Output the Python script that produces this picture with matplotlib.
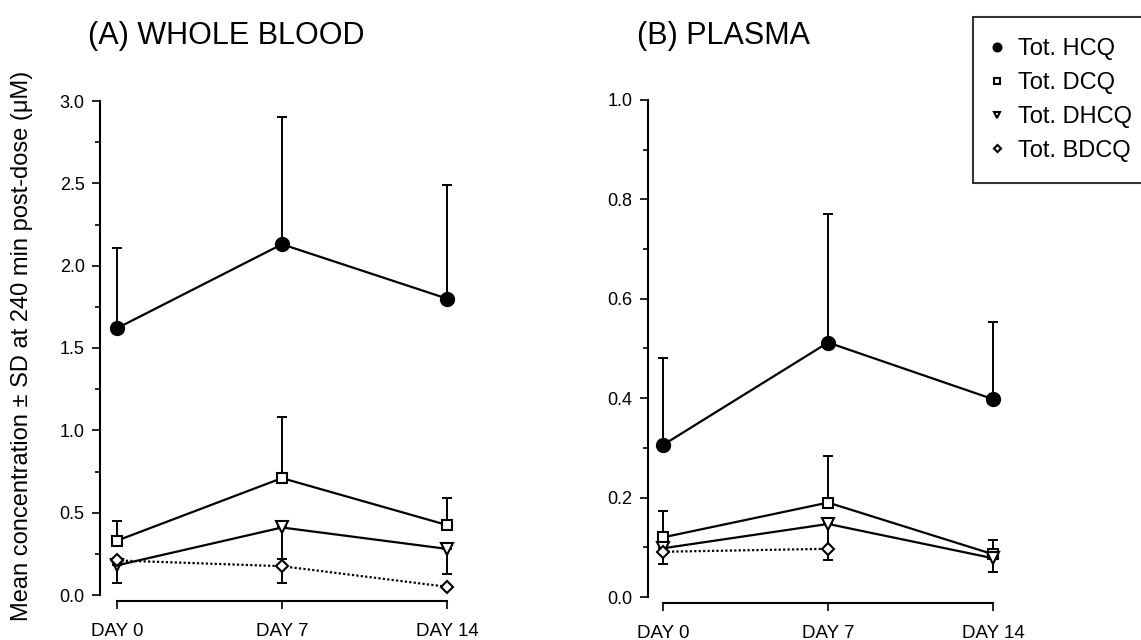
import matplotlib

matplotlib.use("Agg")
import matplotlib.pyplot as plt
import numpy as np
from matplotlib.lines import Line2D
from matplotlib.ticker import FormatStrFormatter, MultipleLocator

plt.rcParams["font.family"] = ["Liberation Sans", "DejaVu Sans"]

# x positions (days) and tick labels
days = [0, 7, 14]
day_labels = ["DAY 0", "DAY 7", "DAY 14"]
series_names = ["Tot. HCQ", "Tot. DCQ", "Tot. DHCQ", "Tot. BDCQ"]

# (A) whole blood: means, upper SD end, lower SD end (nan = no bar)
blood_hcq = [1.62, 2.13, 1.80]
blood_hcq_hi = [2.11, 2.90, 2.49]
blood_dcq = [0.33, 0.71, 0.425]
blood_dcq_hi = [0.45, 1.08, 0.59]
blood_dhcq = [0.18, 0.41, 0.28]
blood_dhcq_lo = [0.07, 0.22, 0.13]
blood_bdcq = [0.21, 0.175, 0.05]
blood_bdcq_lo = [np.nan, 0.07, np.nan]

# (B) plasma
plasma_hcq = [0.306, 0.512, 0.398]
plasma_hcq_hi = [0.481, 0.77, 0.554]
plasma_dcq = [0.12, 0.19, 0.086]
plasma_dcq_hi = [0.174, 0.284, 0.115]
plasma_dhcq = [0.098, 0.147, 0.078]
plasma_dhcq_lo = [0.066, 0.074, 0.051]
plasma_bdcq = [0.091, 0.097, np.nan]

STYLE = {
    "Tot. HCQ": dict(marker="o", ms=9.5, mfc="black", ls="-"),
    "Tot. DCQ": dict(marker="s", ms=7, mfc="white", ls="-"),
    "Tot. DHCQ": dict(marker="v", ms=8, mfc="white", ls="-"),
    "Tot. BDCQ": dict(marker="D", ms=6, mfc="white", ls=(0, (1, 1))),
}


def one_sided(ax, y, end, upper):
    y = np.asarray(y, float)
    end = np.asarray(end, float)
    ok = ~np.isnan(end) & ~np.isnan(y)
    x = np.asarray(days, float)[ok]
    d = np.abs(end[ok] - y[ok])
    err = [np.zeros_like(d), d] if upper else [d, np.zeros_like(d)]
    ax.errorbar(x, y[ok], yerr=err, fmt="none", ecolor="black",
                elinewidth=1.4, capsize=3.5, capthick=1.4, clip_on=False, zorder=2)


def draw_panel(ax, data, ymax, major, minor, xlim):
    for name, (y, hi, lo) in zip(series_names, data):
        if hi is not None:
            one_sided(ax, y, hi, True)
        if lo is not None:
            one_sided(ax, y, lo, False)
    for name, (y, hi, lo) in zip(series_names, data):
        st = STYLE[name]
        ax.plot(days, y, color="black", lw=1.6, ls=st["ls"], marker=st["marker"],
                ms=st["ms"], mfc=st["mfc"], mec="black", mew=1.5,
                clip_on=False, zorder=3)

    ax.set_xlim(*xlim)
    ax.set_ylim(0, ymax)
    ax.set_xticks(days, day_labels)
    ax.yaxis.set_major_locator(MultipleLocator(major))
    ax.yaxis.set_minor_locator(MultipleLocator(minor))
    ax.yaxis.set_major_formatter(FormatStrFormatter("%.1f"))
    ax.tick_params(axis="y", which="major", length=6, width=1.2, pad=5, labelsize=13)
    ax.tick_params(axis="y", which="minor", length=3.5, width=1.2)
    ax.tick_params(axis="x", which="major", length=6, width=1.2, pad=10,
                   direction="out", labelsize=13.5)
    for s in ("top", "right"):
        ax.spines[s].set_visible(False)
    ax.spines["left"].set_bounds(0, ymax)
    ax.spines["left"].set_linewidth(1.5)
    ax.spines["bottom"].set_bounds(0, 14)
    ax.spines["bottom"].set_linewidth(1.5)
    ax.spines["bottom"].set_position(("outward", 4))


fig = plt.figure(figsize=(11.41, 6.40), dpi=100)
W, H = 1141, 640

px_per_day = 165 / 7
axA = fig.add_axes([100 / W, 1 - 595 / H, 15.32 * px_per_day / W, 494 / H])
axB = fig.add_axes([648 / W, 1 - 597 / H, 15.24 * px_per_day / W, 497 / H])

draw_panel(axA, [(blood_hcq, blood_hcq_hi, None), (blood_dcq, blood_dcq_hi, None),
                 (blood_dhcq, None, blood_dhcq_lo), (blood_bdcq, None, blood_bdcq_lo)],
           3.0, 0.5, 0.25, (-0.72, 14.6))
draw_panel(axB, [(plasma_hcq, plasma_hcq_hi, None), (plasma_dcq, plasma_dcq_hi, None),
                 (plasma_dhcq, None, plasma_dhcq_lo), (plasma_bdcq, None, None)],
           1.0, 0.2, 0.1, (-0.64, 14.6))

fig.text(88 / W, 1 - 44 / H, "(A) WHOLE BLOOD", fontsize=22, ha="left", va="baseline")
fig.text(637 / W, 1 - 44 / H, "(B) PLASMA", fontsize=22, ha="left", va="baseline")
fig.text(22 / W, 1 - 346 / H, "Mean concentration ± SD at 240 min post-dose (μM)",
         fontsize=17, rotation=90, ha="center", va="center")

handles = [Line2D([], [], color="black", ls="none", marker=STYLE[n]["marker"],
                  ms=STYLE[n]["ms"] * 0.6, mfc=STYLE[n]["mfc"], mec="black", mew=1.5)
           for n in series_names]
leg = fig.legend(handles, series_names, loc="upper left",
                 bbox_to_anchor=(973 / W, 1 - 17 / H), fontsize=17, frameon=True,
                 fancybox=False, edgecolor="black", borderpad=0.9, handlelength=0.2,
                 handletextpad=0.8, labelspacing=0.5, borderaxespad=0)
leg.get_frame().set_linewidth(1.5)

fig.savefig("out.png", dpi=100)
